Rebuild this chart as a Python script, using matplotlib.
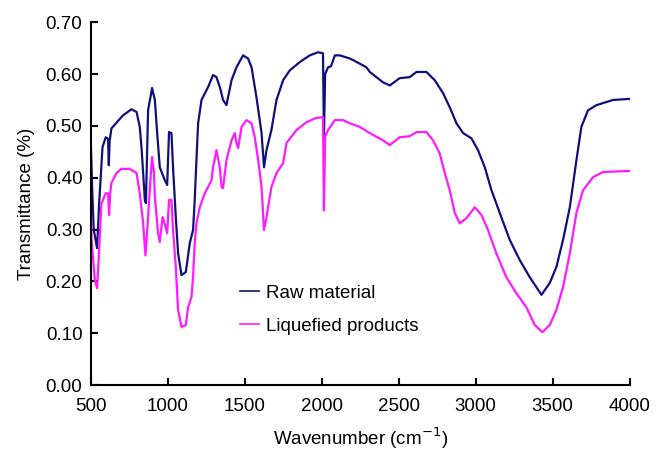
import matplotlib
matplotlib.use("Agg")
import matplotlib.pyplot as plt

plt.rcParams['font.family'] = ['Liberation Sans', 'DejaVu Sans']

# Raw material spectrum (wavenumber, transmittance)
raw_wn = [500, 510, 519, 541, 554, 576, 597, 612, 617, 622, 634, 708, 764, 797,
          818, 829, 840, 851, 858, 872, 898, 916, 931, 948, 981, 996, 1008,
          1024, 1034, 1052, 1067, 1089, 1117, 1143, 1164, 1175, 1186, 1197,
          1219, 1262, 1294, 1316, 1338, 1359, 1381, 1414, 1446, 1489, 1521,
          1544, 1576, 1609, 1625, 1641, 1673, 1706, 1749, 1792, 1857, 1922,
          1976, 2008, 2014, 2022, 2041, 2060, 2085, 2117, 2182, 2203, 2290,
          2312, 2398, 2442, 2506, 2571, 2615, 2680, 2734, 2788, 2831, 2875,
          2918, 2972, 3015, 3059, 3102, 3156, 3221, 3286, 3351, 3427, 3481,
          3524, 3567, 3611, 3654, 3686, 3729, 3784, 3892, 4000]
raw_t = [0.467, 0.37, 0.30, 0.264, 0.35, 0.459, 0.478, 0.475, 0.424, 0.47,
         0.495, 0.52, 0.532, 0.527, 0.498, 0.459, 0.409, 0.357, 0.351, 0.53,
         0.573, 0.55, 0.486, 0.42, 0.395, 0.386, 0.488, 0.486, 0.42, 0.324,
         0.254, 0.212, 0.218, 0.274, 0.299, 0.357, 0.434, 0.505, 0.55, 0.575,
         0.598, 0.594, 0.575, 0.55, 0.54, 0.588, 0.613, 0.636, 0.63, 0.613,
         0.555, 0.486, 0.42, 0.453, 0.492, 0.55, 0.588, 0.607, 0.623, 0.636,
         0.642, 0.64, 0.48, 0.60, 0.613, 0.615, 0.636, 0.636, 0.63, 0.627,
         0.613, 0.604, 0.584, 0.578, 0.592, 0.594, 0.604, 0.604, 0.588, 0.563,
         0.536, 0.505, 0.486, 0.476, 0.453, 0.42, 0.376, 0.332, 0.28, 0.241,
         0.208, 0.174, 0.197, 0.228, 0.28, 0.343, 0.434, 0.498, 0.53, 0.54,
         0.55, 0.552]

# Liquefied products spectrum
liq_wn = [500, 505, 526, 541, 554, 569, 597, 612, 619, 626, 634, 667, 699, 753,
          797, 818, 840, 855, 872, 888, 898, 910, 916, 937, 948, 966, 981, 996,
          1008, 1024, 1034, 1052, 1067, 1089, 1117, 1132, 1154, 1164, 1175,
          1186, 1208, 1240, 1284, 1294, 1316, 1338, 1349, 1359, 1381, 1414,
          1435, 1446, 1457, 1479, 1511, 1544, 1565, 1587, 1609, 1625, 1641,
          1673, 1706, 1749, 1771, 1836, 1901, 1960, 2008, 2014, 2022, 2041,
          2085, 2139, 2182, 2247, 2312, 2398, 2442, 2506, 2571, 2615, 2680,
          2723, 2766, 2799, 2831, 2864, 2896, 2940, 2994, 3037, 3080, 3134,
          3199, 3264, 3329, 3383, 3433, 3481, 3524, 3567, 3611, 3654, 3697,
          3762, 3827, 4000]
liq_t = [0.357, 0.28, 0.202, 0.187, 0.26, 0.35, 0.37, 0.37, 0.328, 0.37,
         0.39, 0.409, 0.417, 0.417, 0.409, 0.37, 0.312, 0.25, 0.324, 0.40,
         0.44, 0.41, 0.363, 0.293, 0.276, 0.324, 0.31, 0.293, 0.357, 0.357,
         0.30, 0.228, 0.145, 0.112, 0.116, 0.15, 0.17, 0.208, 0.274, 0.312,
         0.343, 0.37, 0.395, 0.42, 0.453, 0.42, 0.382, 0.38, 0.434, 0.472,
         0.486, 0.467, 0.457, 0.498, 0.511, 0.505, 0.478, 0.434, 0.382, 0.299,
         0.324, 0.382, 0.409, 0.428, 0.467, 0.492, 0.507, 0.515, 0.517, 0.337,
         0.48, 0.492, 0.511, 0.511, 0.505, 0.498, 0.486, 0.472, 0.463, 0.478,
         0.48, 0.488, 0.488, 0.472, 0.447, 0.409, 0.376, 0.332, 0.312, 0.322,
         0.343, 0.328, 0.299, 0.254, 0.208, 0.177, 0.15, 0.116, 0.102, 0.116,
         0.145, 0.189, 0.254, 0.332, 0.376, 0.401, 0.411, 0.413]

fig = plt.figure(figsize=(6.58, 4.53), dpi=100)
ax = fig.add_axes([0.138, 0.150, 0.819, 0.801])

ax.plot(raw_wn, raw_t, color="#10107a", lw=1.6, label="Raw material")
ax.plot(liq_wn, liq_t, color="#ff1aff", lw=1.6, label="Liquefied products")

ax.set_xlim(500, 4000)
ax.set_ylim(0, 0.70)
ax.set_xticks(range(500, 4001, 500))
ax.set_yticks([i / 10 for i in range(8)])
ax.set_yticklabels(["%.2f" % (i / 10) for i in range(8)])

for s in ["top", "right"]:
    ax.spines[s].set_visible(False)
for s in ["left", "bottom"]:
    ax.spines[s].set_linewidth(1.5)
ax.tick_params(direction="in", length=5, width=1.5, labelsize=13.5)
ax.tick_params(axis="x", pad=9)
ax.tick_params(axis="y", pad=6)

ax.set_xlabel("Wavenumber (cm$^{-1}$)", fontsize=13.5, labelpad=8)
ax.set_ylabel("Transmittance (%)", fontsize=13.5, labelpad=8)

leg = ax.legend(loc="upper left", bbox_to_anchor=(0.2765, 0.277), frameon=False,
                fontsize=13.5, handlelength=1.05, handletextpad=0.35,
                labelspacing=0.85, borderpad=0, borderaxespad=0)
for h in leg.get_lines():
    h.set_linewidth(1.2)

fig.savefig("out.png", dpi=100)
